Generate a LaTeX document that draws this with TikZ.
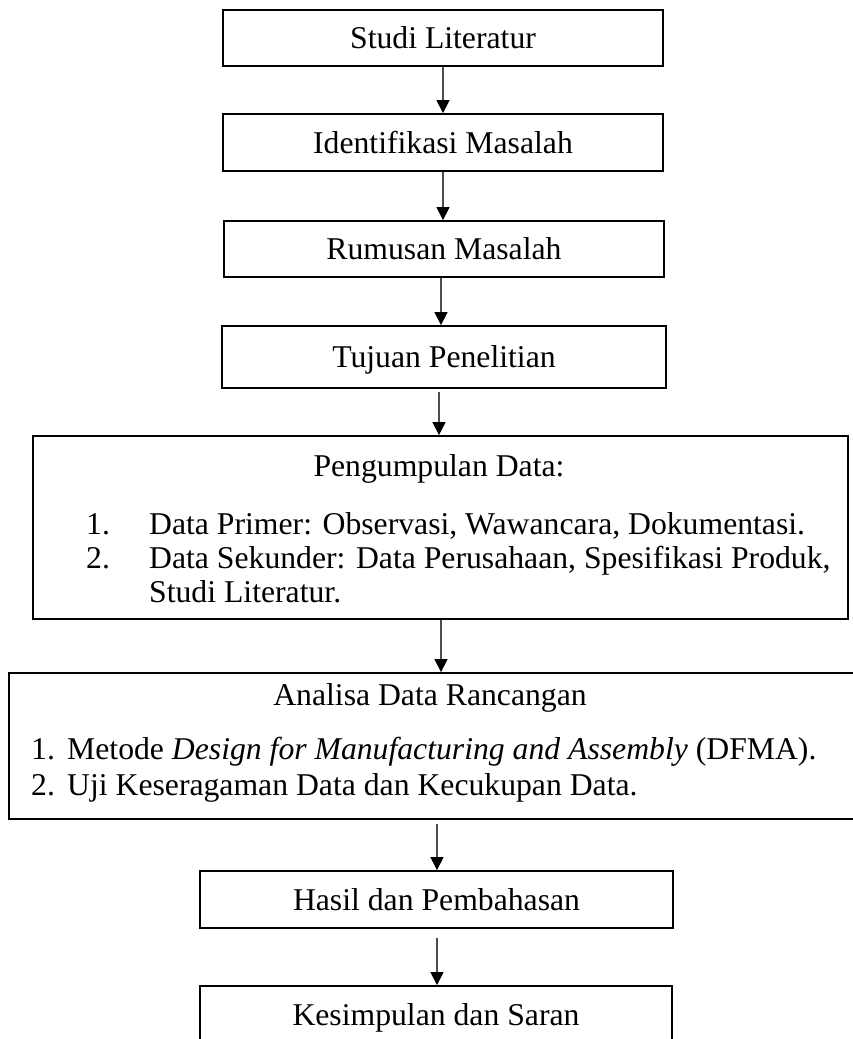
\documentclass[tikz,border=0pt]{standalone}
\usepackage{fontspec}
\setmainfont{Liberation Serif}
\usetikzlibrary{arrows.meta}
\begin{document}
\begin{tikzpicture}[x=1pt,y=-1pt,
  box/.style={draw=black, line width=1.8pt, inner sep=0pt, text height=21pt, text depth=0pt, font=\fontsize{31.7}{35}\selectfont},
  txt/.style={inner sep=0pt, anchor=base west, font=\fontsize{31.7}{35}\selectfont},
  arr/.style={draw=black!70, line width=1.2pt, -{Triangle[width=13pt,length=13pt,black]}}
]
\useasboundingbox (0,0) rectangle (853,1039);
\clip (0,0) rectangle (853,1039);

\node[box, minimum width=440pt, minimum height=56pt] (b1) at (443,38) {Studi Literatur};
\node[box, minimum width=440pt, minimum height=57pt] (b2) at (443,142.5) {Identifikasi Masalah};
\node[box, minimum width=440pt, minimum height=56pt] (b3) at (444,249) {Rumusan Masalah};
\node[box, minimum width=444pt, minimum height=62pt] (b4) at (444,357) {Tujuan Penelitian};
\node[box, minimum width=815pt, minimum height=183pt] (b5) at (440.5,527.5) {};
\node[box, minimum width=862pt, minimum height=146pt] (b6) at (440,746) {};
\node[box, minimum width=473pt, minimum height=57pt] (b7) at (436.5,899.5) {Hasil dan Pembahasan};
\node[box, minimum width=472pt, minimum height=57pt] (b8) at (436,1014.5) {Kesimpulan dan Saran};

\node[txt, anchor=base] (h5) at (439,476) {Pengumpulan Data:};
\node[txt] (n51) at (86,534) {1.};
\node[txt] (t51) at (149,534) {Data Primer: Observasi, Wawancara, Dokumentasi.};
\node[txt] (n52) at (86,568) {2.};
\node[txt] (t52) at (149,568) {Data Sekunder: Data Perusahaan, Spesifikasi Produk,};
\node[txt] (t53) at (149,602) {Studi Literatur.};

\node[txt, anchor=base] (h6) at (430,705) {Analisa Data Rancangan};
\node[txt] (n61) at (31,759) {1.};
\node[txt] (t61) at (67,759) {Metode \textit{Design for Manufacturing and Assembly} (DFMA).};
\node[txt] (n62) at (31,795) {2.};
\node[txt] (t62) at (67,795) {Uji Keseragaman Data dan Kecukupan Data.};

\coordinate (ax1) at (443,0);
\coordinate (ax2) at (443,0);
\coordinate (ax3) at (441,0);
\coordinate (ax4) at (439,0);
\coordinate (ax5) at (441,0);
\coordinate (ax6) at (437,0);
\coordinate (ax7) at (437,0);

\draw[arr] (b1.south -| ax1) -- (b2.north -| ax1);
\draw[arr] (b2.south -| ax2) -- (b3.north -| ax2);
\draw[arr] (b3.south -| ax3) -- (b4.north -| ax3);
\draw[arr, shorten <=3pt] (b4.south -| ax4) -- (b5.north -| ax4);
\draw[arr] (b5.south -| ax5) -- (b6.north -| ax5);
\draw[arr, shorten <=4pt] (b6.south -| ax6) -- (b7.north -| ax6);
\draw[arr, shorten <=9pt] (b7.south -| ax7) -- (b8.north -| ax7);
\end{tikzpicture}
\end{document}
